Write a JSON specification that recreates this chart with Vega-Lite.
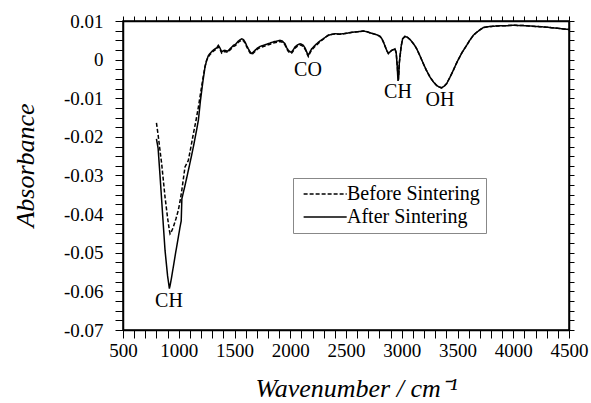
{
  "$schema": "https://vega.github.io/schema/vega-lite/v6.json",
  "width": 446,
  "height": 309,
  "autosize": {"type": "none"},
  "padding": {"left": 123, "top": 21, "right": 22, "bottom": 73},
  "background": "white",
  "config": {
    "view": {"stroke": "black", "strokeWidth": 1.5},
    "axis": {"grid": false, "tickColor": "black", "domainColor": "black", "domainWidth": 1.5, "tickWidth": 1, "labelFont": "Liberation Serif", "titleFont": "Liberation Serif", "labelColor": "black", "titleColor": "black"},
    "legend": {"labelFont": "Liberation Serif"}
  },
  "datasets": {
    "spec": [
        {"x":800,"a":-0.0205,"b":-0.0164},{"x":815,"a":-0.0230,"b":-0.0195},{"x":832,"a":-0.0300,"b":-0.0235},{"x":847,"a":-0.0365,"b":-0.0270},{"x":862,"a":-0.0430,"b":-0.0313},{"x":877,"a":-0.0494,"b":-0.0356},{"x":900,"a":-0.0560,"b":-0.0410},{"x":916,"a":-0.0593,"b":-0.0442},{"x":922,"a":-0.0585,"b":-0.0451},{"x":935,"a":-0.0565,"b":-0.0445},{"x":951,"a":-0.0537,"b":-0.0434},{"x":975,"a":-0.0495,"b":-0.0412},{"x":996,"a":-0.0460,"b":-0.0390},{"x":1011,"a":-0.0434,"b":-0.0368},{"x":1022,"a":-0.0418,"b":-0.0348},{"x":1028,"a":-0.0360,"b":-0.0337},{"x":1056,"a":-0.0326,"b":-0.0278},{"x":1086,"a":-0.0287,"b":-0.0261},{"x":1110,"a":-0.0255,"b":-0.0225},{"x":1131,"a":-0.0226,"b":-0.0192},{"x":1155,"a":-0.0190,"b":-0.0157},{"x":1176,"a":-0.0157,"b":-0.0123},{"x":1195,"a":-0.0105,"b":-0.0088},{"x":1215,"a":-0.0060,"b":-0.0052},{"x":1235,"a":-0.0020,"b":-0.0018},{"x":1250,"a":-0.0002,"b":-0.0002},
        {"x":1265,"a":0.0010,"b":0.0007},{"x":1280,"a":0.0016,"b":0.0013},{"x":1300,"a":0.0022,"b":0.0019},{"x":1325,"a":0.0028,"b":0.0025},{"x":1340,"a":0.0030,"b":0.0027},{"x":1355,"a":0.0037,"b":0.0034},{"x":1370,"a":0.0030,"b":0.0027},{"x":1385,"a":0.0020,"b":0.0017},{"x":1400,"a":0.0023,"b":0.0020},{"x":1415,"a":0.0024,"b":0.0021},{"x":1440,"a":0.0022,"b":0.0019},{"x":1460,"a":0.0028,"b":0.0025},{"x":1490,"a":0.0037,"b":0.0034},{"x":1510,"a":0.0040,"b":0.0037},{"x":1534,"a":0.0048,"b":0.0045},{"x":1565,"a":0.0054,"b":0.0051},{"x":1580,"a":0.0052,"b":0.0049},{"x":1594,"a":0.0046,"b":0.0043},{"x":1610,"a":0.0036,"b":0.0033},{"x":1624,"a":0.0028,"b":0.0025},{"x":1640,"a":0.0020,"b":0.0017},{"x":1654,"a":0.0016,"b":0.0013},{"x":1670,"a":0.0020,"b":0.0017},{"x":1684,"a":0.0024,"b":0.0021},{"x":1705,"a":0.0030,"b":0.0027},{"x":1729,"a":0.0034,"b":0.0031},{"x":1760,"a":0.0037,"b":0.0034},{"x":1789,"a":0.0040,"b":0.0037},{"x":1820,"a":0.0043,"b":0.0040},{"x":1848,"a":0.0046,"b":0.0043},{"x":1880,"a":0.0048,"b":0.0045},{"x":1908,"a":0.0050,"b":0.0047},{"x":1930,"a":0.0048,"b":0.0045},{"x":1953,"a":0.0041,"b":0.0038},{"x":1970,"a":0.0030,"b":0.0027},{"x":1983,"a":0.0024,"b":0.0021},{"x":2000,"a":0.0020,"b":0.0017},{"x":2013,"a":0.0020,"b":0.0017},{"x":2028,"a":0.0026,"b":0.0023},{"x":2043,"a":0.0033,"b":0.0030},{"x":2065,"a":0.0038,"b":0.0035},{"x":2087,"a":0.0041,"b":0.0038},{"x":2100,"a":0.0040,"b":0.0037},{"x":2117,"a":0.0037,"b":0.0034},{"x":2135,"a":0.0029,"b":0.0026},{"x":2147,"a":0.0020,"b":0.0017},{"x":2162,"a":0.0011,"b":0.0008},{"x":2175,"a":0.0019,"b":0.0016},{"x":2192,"a":0.0028,"b":0.0025},{"x":2215,"a":0.0035,"b":0.0032},{"x":2237,"a":0.0041,"b":0.0038},{"x":2265,"a":0.0048,"b":0.0046},{"x":2296,"a":0.0054,"b":0.0053},
        {"x":2320,"a":0.0059,"b":0.0059},{"x":2341,"a":0.0063,"b":0.0063},{"x":2370,"a":0.0065,"b":0.0065},{"x":2401,"a":0.0067,"b":0.0067},{"x":2440,"a":0.0066,"b":0.0066},{"x":2476,"a":0.0067,"b":0.0067},{"x":2520,"a":0.0069,"b":0.0069},{"x":2560,"a":0.0071,"b":0.0071},{"x":2600,"a":0.0072,"b":0.0072},{"x":2630,"a":0.0073,"b":0.0073},{"x":2655,"a":0.0074,"b":0.0074},{"x":2690,"a":0.0072,"b":0.0072},{"x":2720,"a":0.0069,"b":0.0069},{"x":2745,"a":0.0067,"b":0.0067},{"x":2780,"a":0.0064,"b":0.0064},{"x":2805,"a":0.0060,"b":0.0060},{"x":2820,"a":0.0055,"b":0.0055},{"x":2835,"a":0.0046,"b":0.0046},{"x":2850,"a":0.0035,"b":0.0035},{"x":2865,"a":0.0024,"b":0.0024},{"x":2880,"a":0.0016,"b":0.0016},{"x":2895,"a":0.0020,"b":0.0020},{"x":2910,"a":0.0024,"b":0.0024},{"x":2925,"a":0.0026,"b":0.0026},{"x":2939,"a":0.0028,"b":0.0028},{"x":2950,"a":0.0018,"b":0.0018},{"x":2960,"a":-0.0020,"b":-0.0015},{"x":2966,"a":-0.0055,"b":-0.0045},{"x":2972,"a":-0.0050,"b":-0.0040},{"x":2978,"a":-0.0010,"b":-0.0008},{"x":2984,"a":0.0007,"b":0.0007},{"x":2995,"a":0.0035,"b":0.0035},{"x":3008,"a":0.0054,"b":0.0054},{"x":3029,"a":0.0060,"b":0.0060},{"x":3050,"a":0.0058,"b":0.0058},{"x":3074,"a":0.0052,"b":0.0052},{"x":3100,"a":0.0043,"b":0.0043},{"x":3120,"a":0.0035,"b":0.0035},{"x":3134,"a":0.0028,"b":0.0028},{"x":3160,"a":0.0012,"b":0.0012},{"x":3193,"a":-0.0010,"b":-0.0010},{"x":3220,"a":-0.0027,"b":-0.0027},{"x":3253,"a":-0.0045,"b":-0.0045},{"x":3285,"a":-0.0058,"b":-0.0058},{"x":3313,"a":-0.0067,"b":-0.0067},{"x":3335,"a":-0.0071,"b":-0.0071},{"x":3358,"a":-0.0073,"b":-0.0073},{"x":3380,"a":-0.0069,"b":-0.0069},{"x":3403,"a":-0.0062,"b":-0.0062},{"x":3430,"a":-0.0047,"b":-0.0047},{"x":3462,"a":-0.0028,"b":-0.0028},{"x":3485,"a":-0.0013,"b":-0.0013},{"x":3507,"a":0.0000,"b":0.0000},{"x":3540,"a":0.0018,"b":0.0018},{"x":3582,"a":0.0037,"b":0.0037},{"x":3610,"a":0.0050,"b":0.0050},{"x":3642,"a":0.0063,"b":0.0063},{"x":3665,"a":0.0069,"b":0.0069},{"x":3687,"a":0.0074,"b":0.0074},{"x":3710,"a":0.0079,"b":0.0079},{"x":3731,"a":0.0083,"b":0.0083},{"x":3770,"a":0.0085,"b":0.0085},{"x":3800,"a":0.0086,"b":0.0086},{"x":3850,"a":0.0087,"b":0.0087},{"x":3900,"a":0.0088,"b":0.0088},{"x":3950,"a":0.0088,"b":0.0088},{"x":4000,"a":0.0089,"b":0.0089},{"x":4100,"a":0.0088,"b":0.0088},{"x":4200,"a":0.0086,"b":0.0086},{"x":4300,"a":0.0084,"b":0.0084},{"x":4400,"a":0.0081,"b":0.0081},{"x":4500,"a":0.0078,"b":0.0078}
    ]
  },
  "resolve": {"scale": {"x": "independent", "y": "independent"}, "axis": {"x": "independent", "y": "independent"}},
  "layer": [
    {
      "data": {"name": "spec"},
      "transform": [{"fold": ["a", "b"], "as": ["s", "y"]}],
      "mark": {"type": "line", "color": "black", "strokeWidth": 1.5},
      "encoding": {
        "x": {"field": "x", "type": "quantitative", "scale": {"domain": [500, 4500], "nice": false, "zero": false},
          "axis": {"orient": "bottom", "values": [500,600,700,800,900,1000,1100,1200,1300,1400,1500,1600,1700,1800,1900,2000,2100,2200,2300,2400,2500,2600,2700,2800,2900,3000,3100,3200,3300,3400,3500,3600,3700,3800,3900,4000,4100,4200,4300,4400,4500],
            "labelExpr": "datum.value % 500 === 0 ? datum.label : ''", "format": "d", "tickSize": 8, "labelPadding": 18, "labelBaseline": "alphabetic", "labelFont": "Liberation Serif", "labelFontSize": 19, "labelFlush": false, "labelOverlap": false,
            "encode": {"ticks": {"update": {"y": {"value": -5}, "y2": {"signal": "datum.value % 500 === 0 ? 8 : 0"}}}},
            "title": "Wavenumber / cm⁻¹", "titleFont": "Liberation Serif", "titleFontSize": 26, "titleFontStyle": "italic", "titleFontWeight": "normal", "titleX": 233, "titleY": 66, "titleBaseline": "alphabetic", "titleAlign": "center"}},
        "y": {"field": "y", "type": "quantitative", "scale": {"domain": [-0.07, 0.01], "nice": false, "zero": false},
          "axis": {"orient": "left", "values": [-0.07,-0.0675,-0.065,-0.0625,-0.06,-0.0575,-0.055,-0.0525,-0.05,-0.0475,-0.045,-0.0425,-0.04,-0.0375,-0.035,-0.0325,-0.03,-0.0275,-0.025,-0.0225,-0.02,-0.0175,-0.015,-0.0125,-0.01,-0.0075,-0.005,-0.0025,0,0.0025,0.005,0.0075,0.01],
            "labelExpr": "abs(datum.value * 100 - round(datum.value * 100)) < 0.001 ? (datum.value === 0 ? '0' : toString(datum.value)) : ''", "tickSize": 8, "labelPadding": 12, "labelFont": "Liberation Serif", "labelFontSize": 19, "labelFlush": false, "labelOverlap": false,
            "encode": {"ticks": {"update": {"x": {"value": 5}, "x2": {"signal": "abs(datum.value * 100 - round(datum.value * 100)) < 0.001 ? -8 : 0"}}}},
            "title": "Absorbance", "titleFont": "Liberation Serif", "titleFontSize": 26, "titleFontStyle": "italic", "titleFontWeight": "normal", "titleX": -90, "titleY": 144, "titleAngle": 270, "titleBaseline": "alphabetic", "titleAlign": "center"}},
        "strokeDash": {"field": "s", "type": "nominal", "scale": {"domain": ["b", "a"], "range": [[4, 2], [1, 0]]},
          "legend": {"orient": "none", "legendX": 170, "legendY": 157, "title": null, "labelExpr": "datum.label === 'b' ? 'Before Sintering' : 'After Sintering'", "symbolType": "M-1,0H7", "symbolSize": 116, "symbolStrokeWidth": 1.5, "symbolStrokeColor": "black", "symbolFillColor": "transparent", "labelFont": "Liberation Serif", "labelFontSize": 20, "labelColor": "black", "strokeColor": "#888", "padding": 6, "rowPadding": 3, "labelOffset": 28}}
      }
    },
    {
      "data": {"name": "spec"},
      "transform": [{"fold": ["a", "b"], "as": ["s", "y"]}],
      "mark": {"type": "line", "opacity": 0},
      "encoding": {
        "x": {"field": "x", "type": "quantitative", "scale": {"domain": [500, 4500], "nice": false, "zero": false},
          "axis": {"orient": "top", "values": [500,600,700,800,900,1000,1100,1200,1300,1400,1500,1600,1700,1800,1900,2000,2100,2200,2300,2400,2500,2600,2700,2800,2900,3000,3100,3200,3300,3400,3500,3600,3700,3800,3900,4000,4100,4200,4300,4400,4500],
            "labels": false, "title": null, "tickSize": 5,
            "encode": {"ticks": {"update": {"y": {"value": 0}, "y2": {"signal": "datum.value % 500 === 0 ? 7 : 4"}}}}}},
        "y": {"field": "y", "type": "quantitative", "scale": {"domain": [-0.07, 0.01], "nice": false, "zero": false},
          "axis": {"orient": "right", "values": [-0.07,-0.0675,-0.065,-0.0625,-0.06,-0.0575,-0.055,-0.0525,-0.05,-0.0475,-0.045,-0.0425,-0.04,-0.0375,-0.035,-0.0325,-0.03,-0.0275,-0.025,-0.0225,-0.02,-0.0175,-0.015,-0.0125,-0.01,-0.0075,-0.005,-0.0025,0,0.0025,0.005,0.0075,0.01],
            "labels": false, "title": null, "tickSize": 5,
            "encode": {"ticks": {"update": {"x": {"value": 0}, "x2": {"signal": "abs(datum.value * 100 - round(datum.value * 100)) < 0.001 ? -7 : -4"}}}}}}
      }
    },
    {
      "mark": {"type": "rule", "color": "black", "strokeWidth": 1},
      "encoding": {
        "y": {"datum": 0, "type": "quantitative", "scale": {"domain": [-0.07, 0.01], "nice": false, "zero": false}, "axis": null}
      }
    },
    {
      "data": {"values": [{"t":"CO","x":2159,"y":-0.0028},{"t":"CH","x":2966,"y":-0.0084},{"t":"OH","x":3343,"y":-0.0105},{"t":"CH","x":912,"y":-0.0624}]},
      "mark": {"type": "text", "font": "Liberation Serif", "fontSize": 20, "color": "black", "baseline": "middle", "align": "center"},
      "encoding": {
        "x": {"field": "x", "type": "quantitative", "scale": {"domain": [500, 4500], "nice": false, "zero": false}, "axis": null},
        "y": {"field": "y", "type": "quantitative", "scale": {"domain": [-0.07, 0.01], "nice": false, "zero": false}, "axis": null},
        "text": {"field": "t"}
      }
    }
  ]
}
